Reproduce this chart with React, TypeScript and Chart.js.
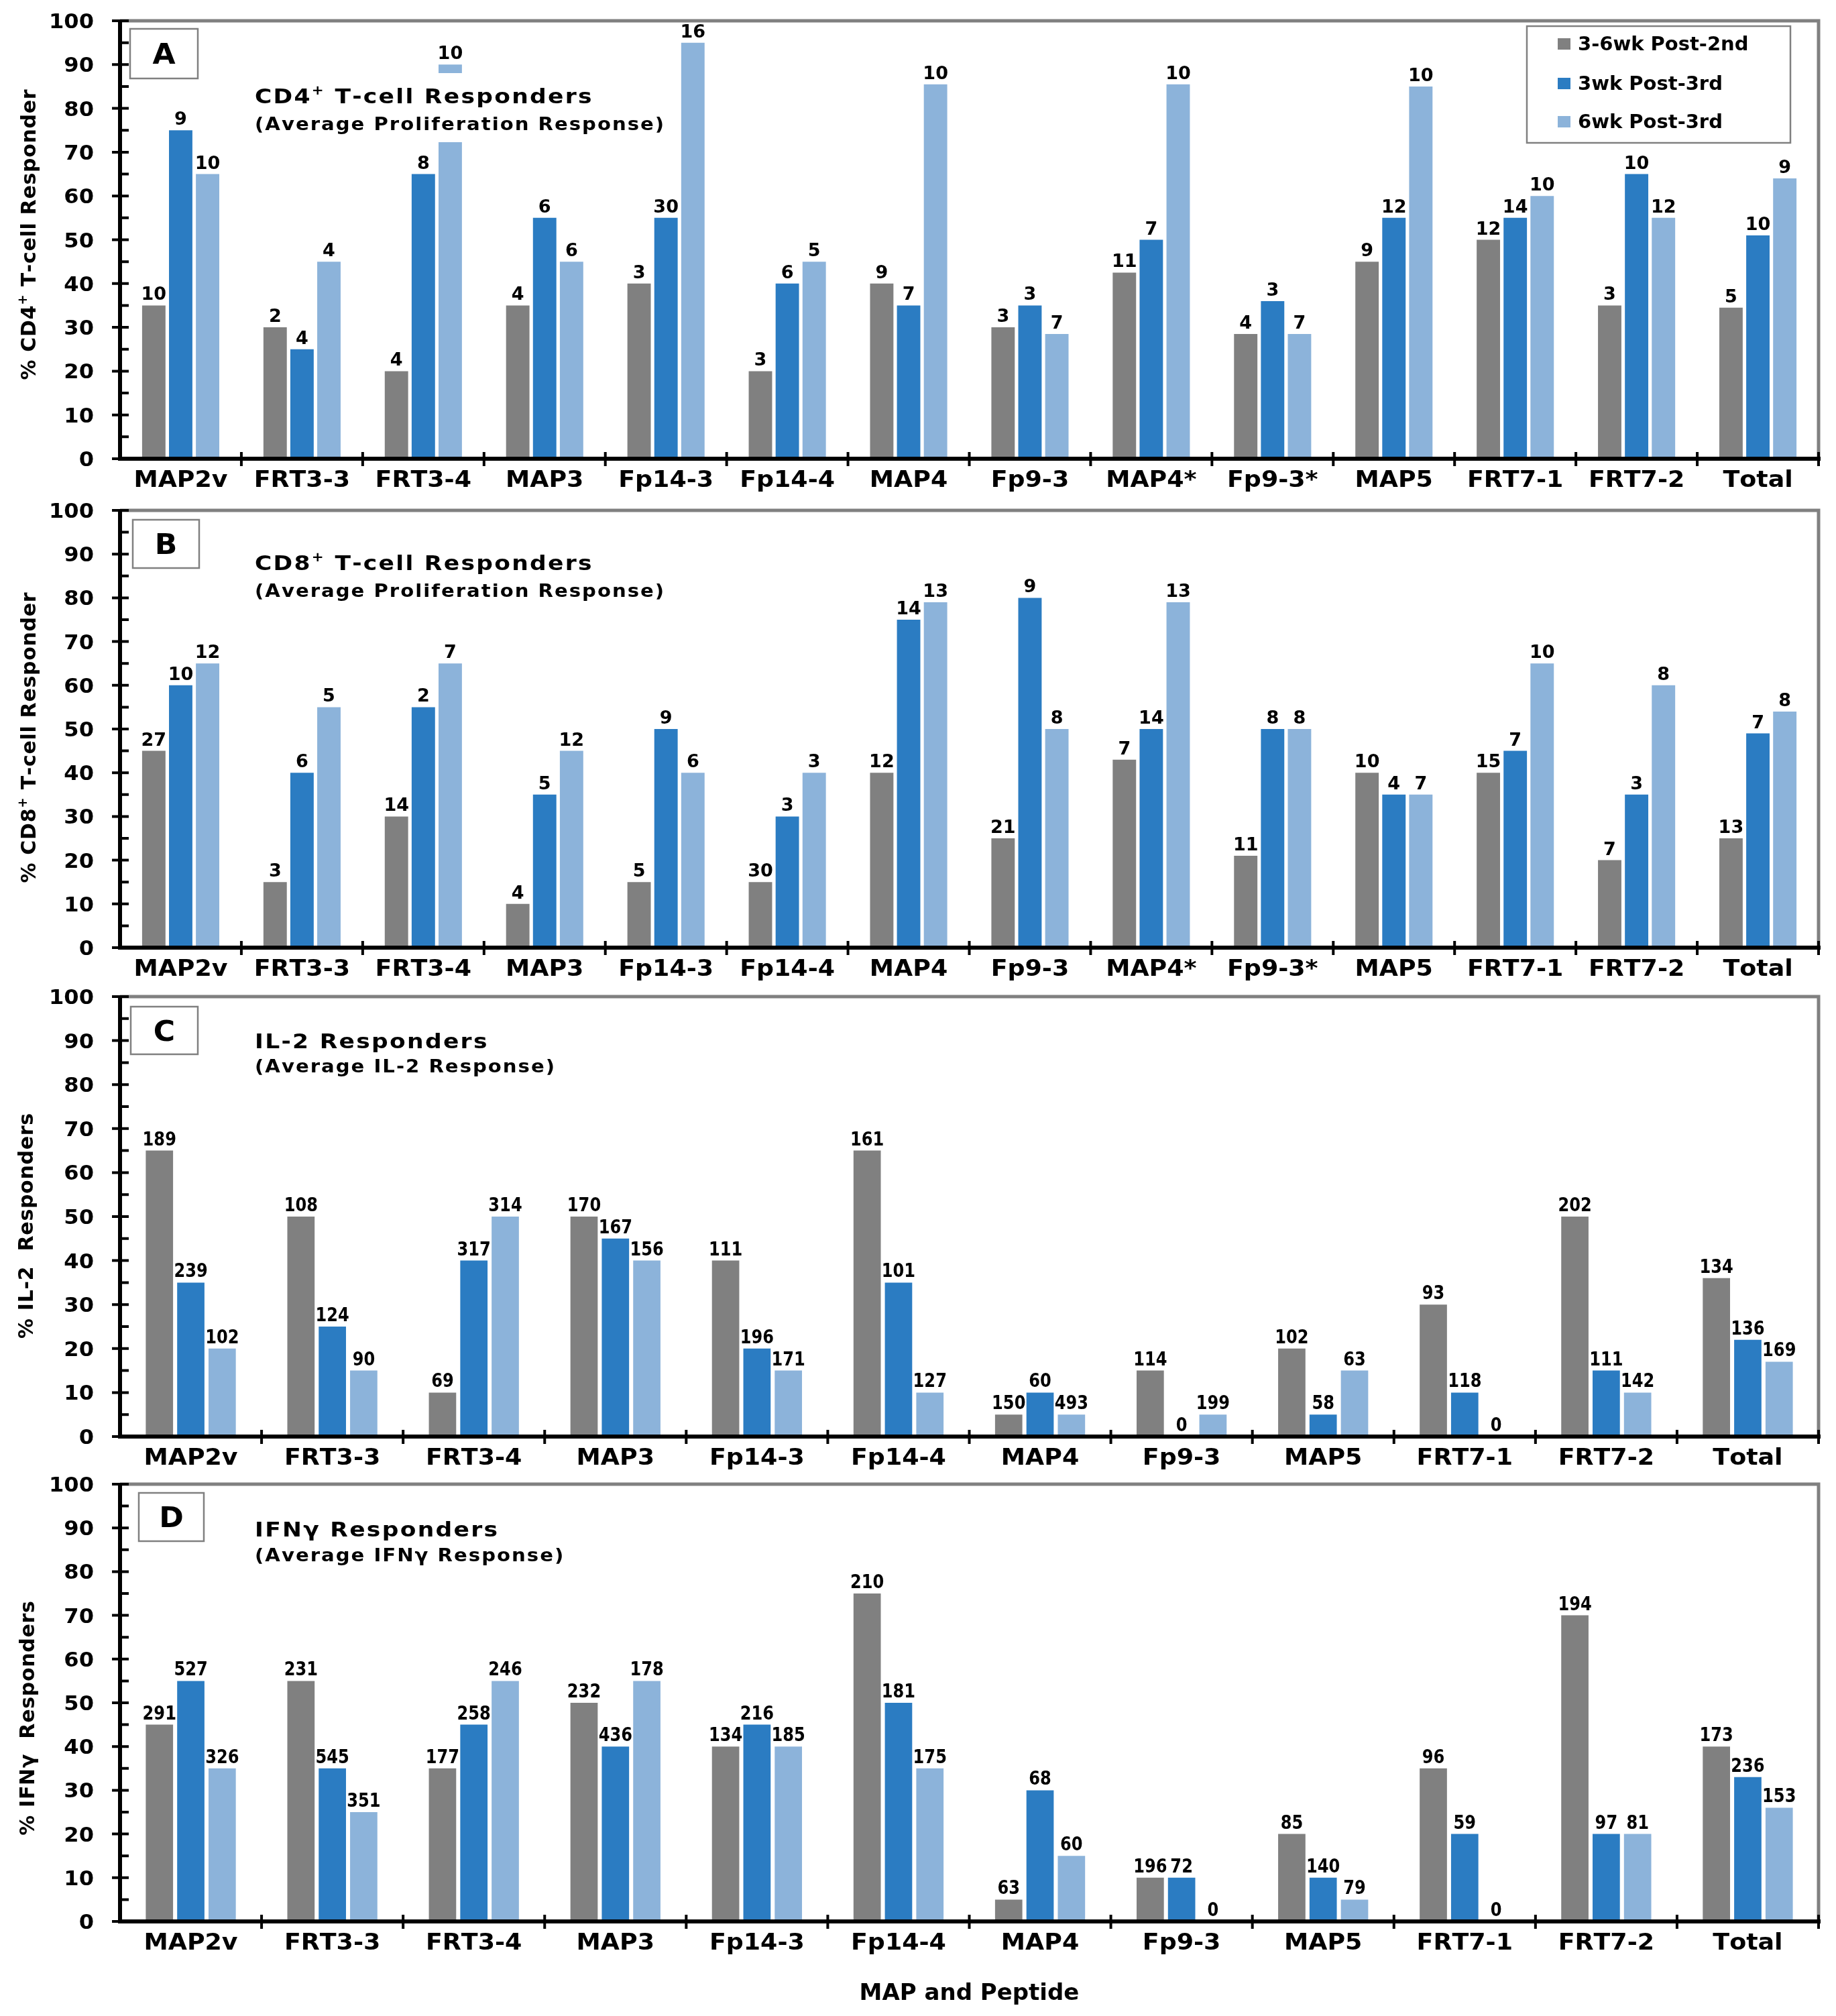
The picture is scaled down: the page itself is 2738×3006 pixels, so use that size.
import React, { useEffect, useRef } from 'react';
import { Chart, registerables } from 'chart.js';

Chart.register(...registerables);

// ---------------- DATA ----------------
const catsAB = ['MAP2v', 'FRT3-3', 'FRT3-4', 'MAP3', 'Fp14-3', 'Fp14-4', 'MAP4', 'Fp9-3', 'MAP4*', 'Fp9-3*', 'MAP5', 'FRT7-1', 'FRT7-2', 'Total'];
const catsCD = ['MAP2v', 'FRT3-3', 'FRT3-4', 'MAP3', 'Fp14-3', 'Fp14-4', 'MAP4', 'Fp9-3', 'MAP5', 'FRT7-1', 'FRT7-2', 'Total'];
const seriesNames = ['3-6wk Post-2nd', '3wk Post-3rd', '6wk Post-3rd'];
const yTicks = [0, 10, 20, 30, 40, 50, 60, 70, 80, 90, 100];

// Panel A: CD4+ T-cell responders (%)
const aPost2 = [35, 30, 20, 35, 40, 20, 40, 30, 42.5, 28.5, 45, 50, 35, 34.5];
const aWk3 = [75, 25, 65, 55, 55, 40, 35, 35, 50, 36, 55, 55, 65, 51];
const aWk6 = [65, 45, 90, 45, 95, 45, 85.5, 28.5, 85.5, 28.5, 85, 60, 55, 64];
const aLblPost2 = [10, 2, 4, 4, 3, 3, 9, 3, 11, 4, 9, 12, 3, 5];
const aLblWk3 = [9, 4, 8, 6, 30, 6, 7, 3, 7, 3, 12, 14, 10, 10];
const aLblWk6 = [10, 4, 10, 6, 16, 5, 10, 7, 10, 7, 10, 10, 12, 9];

// Panel B: CD8+ T-cell responders (%)
const bPost2 = [45, 15, 30, 10, 15, 15, 40, 25, 43, 21, 40, 40, 20, 25];
const bWk3 = [60, 40, 55, 35, 50, 30, 75, 80, 50, 50, 35, 45, 35, 49];
const bWk6 = [65, 55, 65, 45, 40, 40, 79, 50, 79, 50, 35, 65, 60, 54];
const bLblPost2 = [27, 3, 14, 4, 5, 30, 12, 21, 7, 11, 10, 15, 7, 13];
const bLblWk3 = [10, 6, 2, 5, 9, 3, 14, 9, 14, 8, 4, 7, 3, 7];
const bLblWk6 = [12, 5, 7, 12, 6, 3, 13, 8, 13, 8, 7, 10, 8, 8];

// Panel C: IL-2 responders (%)
const cPost2 = [65, 50, 10, 50, 40, 65, 5, 15, 20, 30, 50, 36];
const cWk3 = [35, 25, 40, 45, 20, 35, 10, 0, 5, 10, 15, 22];
const cWk6 = [20, 15, 50, 40, 15, 10, 5, 5, 15, 0, 10, 17];
const cLblPost2 = [189, 108, 69, 170, 111, 161, 150, 114, 102, 93, 202, 134];
const cLblWk3 = [239, 124, 317, 167, 196, 101, 60, 0, 58, 118, 111, 136];
const cLblWk6 = [102, 90, 314, 156, 171, 127, 493, 199, 63, 0, 142, 169];

// Panel D: IFNγ responders (%)
const dPost2 = [45, 55, 35, 50, 40, 75, 5, 10, 20, 35, 70, 40];
const dWk3 = [55, 35, 45, 40, 45, 50, 30, 10, 10, 20, 20, 33];
const dWk6 = [35, 25, 55, 55, 40, 35, 15, 0, 5, 0, 20, 26];
const dLblPost2 = [291, 231, 177, 232, 134, 210, 63, 196, 85, 96, 194, 173];
const dLblWk3 = [527, 545, 258, 436, 216, 181, 68, 72, 140, 59, 97, 236];
const dLblWk6 = [326, 351, 246, 178, 185, 175, 60, 0, 79, 0, 81, 153];

// ---------------- STYLE ----------------
const FONT = '"DejaVu Sans", "Liberation Sans", Arial, sans-serif';
const COLORS = ['#808080', '#2b7cc2', '#8cb3da'];
const BORDER_GREY = '#808080';

type Part = { t: string; sup?: boolean };

function partsWidth(ctx: CanvasRenderingContext2D, parts: Part[], size: number, sp: number, sx: number) {
  let w = 0;
  for (const p of parts) {
    const s = p.sup ? size * 0.62 : size;
    ctx.font = `bold ${s}px ${FONT}`;
    for (const ch of p.t) w += ctx.measureText(ch).width + sp;
  }
  return (w - sp) * sx;
}

function drawParts(ctx: CanvasRenderingContext2D, parts: Part[], x: number, y: number, size: number, sp: number, sx: number, align: 'left' | 'center' | 'right', color = '#000') {
  const w = partsWidth(ctx, parts, size, sp, sx);
  let cx = align === 'center' ? x - w / 2 : align === 'right' ? x - w : x;
  ctx.save();
  ctx.fillStyle = color;
  ctx.textAlign = 'left';
  ctx.textBaseline = 'alphabetic';
  for (const p of parts) {
    const s = p.sup ? size * 0.62 : size;
    ctx.font = `bold ${s}px ${FONT}`;
    const dy = p.sup ? -size * 0.42 : 0;
    for (const ch of p.t) {
      ctx.save();
      ctx.translate(cx, y + dy);
      ctx.scale(sx, 1);
      ctx.fillText(ch, 0, 0);
      ctx.restore();
      cx += (ctx.measureText(ch).width + sp) * sx;
    }
  }
  ctx.restore();
}

interface PanelCfg {
  top: number;
  height: number;
  plotTop: number;
  plotBottom: number;
  cats: string[];
  series: number[][];
  labels: number[][];
  lblSize: number;
  lblSx: number;
  letter: string;
  box: [number, number, number, number];
  title: Part[];
  titleY: number;
  sub: Part[];
  subY: number;
  yTitle: Part[];
  yTitleX: number;
  yTitleY: number;
  legend?: boolean;
  cover?: [number, number, number, number];
  xTitleY?: number;
}

const PLOT_LEFT = 179;
const PLOT_RIGHT = 2712;
const W = 2738;

const panels: PanelCfg[] = [
  {
    top: 0, height: 740, plotTop: 31, plotBottom: 684,
    cats: catsAB, series: [aPost2, aWk3, aWk6], labels: [aLblPost2, aLblWk3, aLblWk6],
    lblSize: 26, lblSx: 1.04,
    letter: 'A', box: [194, 43, 101, 74],
    title: [{ t: 'CD4' }, { t: '+', sup: true }, { t: ' T-cell Responders' }], titleY: 154,
    sub: [{ t: '(Average Proliferation Response)' }], subY: 194,
    yTitle: [{ t: '% CD4' }, { t: '+', sup: true }, { t: ' T-cell Responder' }], yTitleX: 42, yTitleY: 350,
    legend: true, cover: [370, 109, 630, 103],
  },
  {
    top: 740, height: 730, plotTop: 21, plotBottom: 673,
    cats: catsAB, series: [bPost2, bWk3, bWk6], labels: [bLblPost2, bLblWk3, bLblWk6],
    lblSize: 26, lblSx: 1.04,
    letter: 'B', box: [198, 35, 99, 72],
    title: [{ t: 'CD8' }, { t: '+', sup: true }, { t: ' T-cell Responders' }], titleY: 110,
    sub: [{ t: '(Average Proliferation Response)' }], subY: 150,
    yTitle: [{ t: '% CD8' }, { t: '+', sup: true }, { t: ' T-cell Responder' }], yTitleX: 42, yTitleY: 360,
  },
  {
    top: 1470, height: 724, plotTop: 16, plotBottom: 672,
    cats: catsCD, series: [cPost2, cWk3, cWk6], labels: [cLblPost2, cLblWk3, cLblWk6],
    lblSize: 28, lblSx: 0.86,
    letter: 'C', box: [195, 31, 100, 71],
    title: [{ t: 'IL-2 Responders' }], titleY: 93,
    sub: [{ t: '(Average IL-2 Response)' }], subY: 129,
    yTitle: [{ t: '% IL-2  Responders' }], yTitleX: 38, yTitleY: 358,
  },
  {
    top: 2194, height: 812, plotTop: 19, plotBottom: 671,
    cats: catsCD, series: [dPost2, dWk3, dWk6], labels: [dLblPost2, dLblWk3, dLblWk6],
    lblSize: 28, lblSx: 0.86,
    letter: 'D', box: [207, 32, 97, 72],
    title: [{ t: 'IFNγ Responders' }], titleY: 97,
    sub: [{ t: '(Average IFNγ Response)' }], subY: 134,
    yTitle: [{ t: '% IFNγ  Responders' }], yTitleX: 40, yTitleY: 368,
    xTitleY: 788,
  },
];

function makePlugin(cfg: PanelCfg) {
  return {
    id: 'panelDecor' + cfg.letter,
    afterDatasetsDraw(chart: any) {
      const ctx: CanvasRenderingContext2D = chart.ctx;
      const xs = chart.scales.x;
      const ys = chart.scales.y;
      const area = chart.chartArea;
      const L = area.left, R = area.right, T = area.top, B = area.bottom;
      ctx.save();

      // white background of the title text box (covers what lies beneath)
      if (cfg.cover) {
        ctx.fillStyle = '#ffffff';
        ctx.fillRect(cfg.cover[0], cfg.cover[1], cfg.cover[2], cfg.cover[3]);
      }

      // grey plot border (top + right)
      ctx.strokeStyle = BORDER_GREY;
      ctx.lineWidth = 5;
      ctx.beginPath();
      ctx.moveTo(L, T);
      ctx.lineTo(R, T);
      ctx.lineTo(R, B);
      ctx.stroke();

      // black axes
      ctx.strokeStyle = '#000';
      ctx.lineWidth = 6;
      ctx.beginPath();
      ctx.moveTo(L, T - 2);
      ctx.lineTo(L, B + 3);
      ctx.moveTo(L - 3, B);
      ctx.lineTo(R + 3, B);
      ctx.stroke();

      // y ticks (major cross, minor inside)
      ctx.lineWidth = 4;
      ctx.beginPath();
      for (let v = 0; v <= 100; v += 5) {
        const y = ys.getPixelForValue(v);
        if (v % 10 === 0) {
          ctx.moveTo(L - 12, y);
          ctx.lineTo(L + 13, y);
        } else {
          ctx.moveTo(L, y);
          ctx.lineTo(L + 13, y);
        }
      }
      // x ticks at category boundaries
      const n = cfg.cats.length;
      const cw = (R - L) / n;
      for (let i = 1; i <= n; i++) {
        const x = L + i * cw;
        ctx.moveTo(x, B - 10);
        ctx.lineTo(x, B + 11);
      }
      ctx.stroke();

      // y tick labels
      for (const v of yTicks) {
        const y = ys.getPixelForValue(v);
        drawParts(ctx, [{ t: String(v) }], L - 39, y + 11, 30, 0, 1.07, 'right');
      }
      // category labels
      cfg.cats.forEach((c, i) => {
        const x = xs.getPixelForValue(i);
        drawParts(ctx, [{ t: c }], x, B + 42, 34, 0, 1.07, 'center');
      });

      // data labels
      cfg.series.forEach((_, di) => {
        const meta = chart.getDatasetMeta(di);
        meta.data.forEach((bar: any, i: number) => {
          const lbl = cfg.labels[di][i];
          drawParts(ctx, [{ t: String(lbl) }], bar.x, bar.y - 8, cfg.lblSize, 0, cfg.lblSx, 'center');
        });
      });

      // panel letter box
      ctx.strokeStyle = BORDER_GREY;
      ctx.lineWidth = 2.5;
      ctx.fillStyle = '#fff';
      ctx.fillRect(cfg.box[0], cfg.box[1], cfg.box[2], cfg.box[3]);
      ctx.strokeRect(cfg.box[0], cfg.box[1], cfg.box[2], cfg.box[3]);
      drawParts(ctx, [{ t: cfg.letter }], cfg.box[0] + cfg.box[2] / 2, cfg.box[1] + cfg.box[3] / 2 + 15, 42, 0, 1.05, 'center');

      // titles
      drawParts(ctx, cfg.title, 380, cfg.titleY, 30, 2, 1.15, 'left');
      drawParts(ctx, cfg.sub, 380, cfg.subY, 26, 1.8, 1.12, 'left');

      // y-axis title (rotated)
      ctx.save();
      ctx.translate(cfg.yTitleX, cfg.yTitleY);
      ctx.rotate(-Math.PI / 2);
      drawParts(ctx, cfg.yTitle, 0, 11, 30, 0.7, 1, 'center');
      ctx.restore();

      // legend
      if (cfg.legend) {
        ctx.fillStyle = '#fff';
        ctx.fillRect(2277, 39, 393, 174);
        ctx.strokeStyle = BORDER_GREY;
        ctx.lineWidth = 2.5;
        ctx.strokeRect(2277, 39, 393, 174);
        const rows = [65, 124, 181];
        seriesNames.forEach((name, i) => {
          ctx.fillStyle = COLORS[i];
          ctx.fillRect(2323, rows[i] - 8, 19, 17);
          drawParts(ctx, [{ t: name }], 2353, rows[i] + 10, 29, 0, 1, 'left');
        });
      }

      // x-axis title
      if (cfg.xTitleY) {
        drawParts(ctx, [{ t: 'MAP and Peptide' }], (L + R) / 2, cfg.xTitleY, 34, 0, 1, 'center');
      }
      ctx.restore();
    },
  };
}

function Panel({ cfg }: { cfg: PanelCfg }) {
  const ref = useRef<HTMLCanvasElement | null>(null);
  useEffect(() => {
    if (!ref.current) return;
    const chart = new Chart(ref.current, {
      type: 'bar',
      data: {
        labels: cfg.cats,
        datasets: cfg.series.map((s, i) => ({
          label: seriesNames[i],
          data: s,
          backgroundColor: COLORS[i],
          borderWidth: 0,
          categoryPercentage: 0.665,
          barPercentage: 0.87,
        })),
      },
      options: {
        responsive: false,
        animation: false,
        devicePixelRatio: 1,
        layout: {
          padding: {
            left: PLOT_LEFT,
            right: W - PLOT_RIGHT,
            top: cfg.plotTop,
            bottom: cfg.height - cfg.plotBottom,
          },
        },
        plugins: {
          legend: { display: false },
          tooltip: { enabled: false },
          title: { display: false },
        },
        scales: {
          x: { display: false },
          y: { display: false, min: 0, max: 100 },
        },
      },
      plugins: [makePlugin(cfg)],
    } as any);
    return () => chart.destroy();
  }, [cfg]);
  return (
    <canvas
      ref={ref}
      width={W}
      height={cfg.height}
      style={{ position: 'absolute', left: 0, top: cfg.top, width: W, height: cfg.height }}
    />
  );
}

export default function App() {
  return (
    <div style={{ position: 'absolute', left: 0, top: 0, width: W, height: 3006, background: '#fff', overflow: 'hidden' }}>
      {panels.map((p) => (
        <Panel key={p.letter} cfg={p} />
      ))}
    </div>
  );
}
